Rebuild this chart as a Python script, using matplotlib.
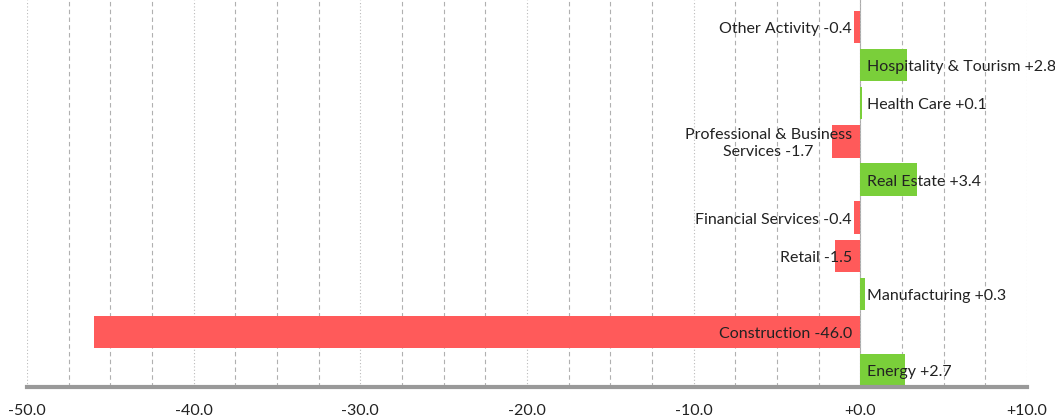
import matplotlib
matplotlib.use("Agg")
import matplotlib.pyplot as plt
from matplotlib.ticker import MultipleLocator, FuncFormatter
import numpy as np

plt.rcParams['font.family'] = ['Lato', 'DejaVu Sans']

categories = [
    "Other Activity",
    "Hospitality & Tourism",
    "Health Care",
    "Professional & Business\nServices",
    "Real Estate",
    "Financial Services",
    "Retail",
    "Manufacturing",
    "Construction",
    "Energy",
]
values = [-0.4, 2.8, 0.1, -1.7, 3.4, -0.4, -1.5, 0.3, -46.0, 2.7]
x_ticks = [-50, -40, -30, -20, -10, 0, 10]

RED = "#ff5a5a"
GREEN = "#7acf3a"

fig = plt.figure(figsize=(10.55, 4.2), dpi=100)
ax = fig.add_axes([0.0256, 0.0786, 0.9479, 0.9214])

y = np.arange(len(categories))
colors = [GREEN if v >= 0 else RED for v in values]
ax.barh(y, values, height=0.85, color=colors, zorder=2)

for yi, cat, v in zip(y, categories, values):
    label = "{} {:+.1f}".format(cat, v)
    if v >= 0:
        ax.annotate(label, (0, yi), xytext=(5, -1.5), textcoords="offset points",
                    ha="left", va="center", fontsize=11.5, color="#222222", zorder=3)
    else:
        ax.annotate(label, (0, yi), xytext=(-6, -1.5), textcoords="offset points",
                    ha="right", va="center", fontsize=11.5, color="#222222",
                    multialignment="center", linespacing=1.3, zorder=3)

ax.set_xlim(-50, 10)
ax.set_ylim(len(categories) - 1 + 0.445, -0.71)

ax.xaxis.set_minor_locator(MultipleLocator(2.5))
ax.set_xticks(x_ticks)
ax.xaxis.set_major_formatter(FuncFormatter(lambda v, p: "{:+.1f}".format(v) if v != 0 else "+0.0"))
ax.grid(axis="x", which="major", color="#bbbbbb", linestyle=(0, (1, 2)), linewidth=0.8, zorder=0)
ax.grid(axis="x", which="minor", color="#b0b0b0", linestyle=(0, (4, 3)), linewidth=0.8, zorder=0)
ax.axvline(0, color="#aaaaaa", linewidth=0.8, zorder=1)

ax.set_yticks([])
ax.tick_params(axis="x", which="both", length=0, labelsize=11.5, pad=12, colors="#222222")
for side in ["top", "right", "left"]:
    ax.spines[side].set_visible(False)
ax.spines["bottom"].set_color("#999999")
ax.spines["bottom"].set_linewidth(3)

fig.savefig("out.png", dpi=100)
